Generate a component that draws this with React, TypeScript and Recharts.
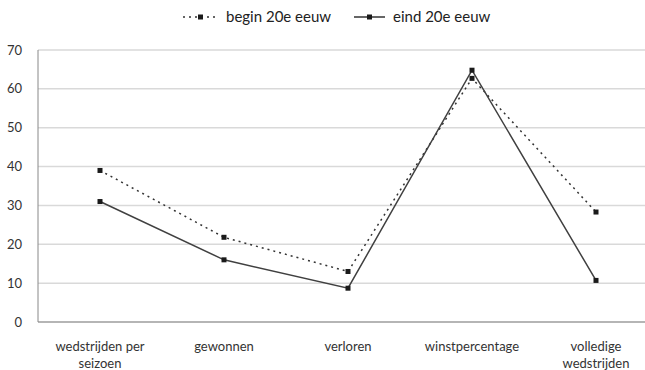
import React from "react";
import { LineChart, Line, XAxis, YAxis, CartesianGrid, Legend } from "recharts";

const categories = ["wedstrijden per seizoen", "gewonnen", "verloren", "winstpercentage", "volledige wedstrijden"];
const begin20 = [39, 21.8, 13, 62.7, 28.3];
const eind20 = [31, 16, 8.7, 64.8, 10.7];
const yTicks = [0, 10, 20, 30, 40, 50, 60, 70];

const tickLines: Record<string, string[]> = {
  "wedstrijden per seizoen": ["wedstrijden per", "seizoen"],
  "volledige wedstrijden": ["volledige", "wedstrijden"],
};

const data = categories.map((c, i) => ({ cat: c, begin: begin20[i], eind: eind20[i] }));

const FONT = "Lato, 'Open Sans', sans-serif";

function CatTick({ x, y, payload }: any) {
  const lines = tickLines[payload.value] ?? [payload.value];
  return (
    <text x={x} y={y + 21} textAnchor="middle" fill="#333" fontSize={13} fontFamily={FONT}>
      {lines.map((l, i) => (
        <tspan key={i} x={x} dy={i === 0 ? 0 : 17}>
          {l}
        </tspan>
      ))}
    </text>
  );
}

function Square({ cx, cy }: any) {
  if (cx == null || cy == null) return null;
  return <rect x={cx - 2.5} y={cy - 2.5} width={5} height={5} fill="#1a1a1a" />;
}

function LegendBox() {
  return (
    <svg width={330} height={22} style={{ display: "block", marginLeft: 180 }}>
      <line x1={3} x2={38} y1={11} y2={11} stroke="#333" strokeWidth={1.5} strokeDasharray="2 4" />
      <rect x={18} y={8.5} width={5} height={5} fill="#1a1a1a" />
      <text x={46} y={16} fontSize={15} fill="#222" fontFamily={FONT}>begin 20e eeuw</text>
      <line x1={174} x2={205} y1={11} y2={11} stroke="#333" strokeWidth={1.5} />
      <rect x={187} y={8.5} width={5} height={5} fill="#1a1a1a" />
      <text x={213} y={16} fontSize={15} fill="#222" fontFamily={FONT}>eind 20e eeuw</text>
    </svg>
  );
}

export default function App() {
  return (
    <div style={{ position: "absolute", left: 0, top: 0, width: 645, height: 370, overflow: "hidden", background: "#fff" }}>
      <LineChart width={670} height={370} data={data} margin={{ top: 28, right: 12, bottom: 18, left: 0 }}>
        <CartesianGrid vertical={false} stroke="#d9d9d9" strokeWidth={1.5} />
        <XAxis
          dataKey="cat"
          tick={<CatTick />}
          tickLine={false}
          axisLine={{ stroke: "#888" }}
          interval={0}
          padding={{ left: 62, right: 62 }}
        />
        <YAxis
          domain={[0, 70]}
          ticks={yTicks}
          width={38}
          tickLine={false}
          axisLine={{ stroke: "#888" }}
          tick={{ fill: "#333", fontSize: 13, fontFamily: FONT }}
          tickMargin={10}
        />
        <Legend verticalAlign="top" content={<LegendBox />} wrapperStyle={{ top: 6, left: 0, width: 645 }} />
        <Line
          dataKey="begin"
          name="begin 20e eeuw"
          stroke="#333"
          strokeWidth={1.5}
          strokeDasharray="2 4"
          dot={<Square />}
          activeDot={false}
          isAnimationActive={false}
        />
        <Line
          dataKey="eind"
          name="eind 20e eeuw"
          stroke="#404040"
          strokeWidth={1.5}
          dot={<Square />}
          activeDot={false}
          isAnimationActive={false}
        />
      </LineChart>
    </div>
  );
}
